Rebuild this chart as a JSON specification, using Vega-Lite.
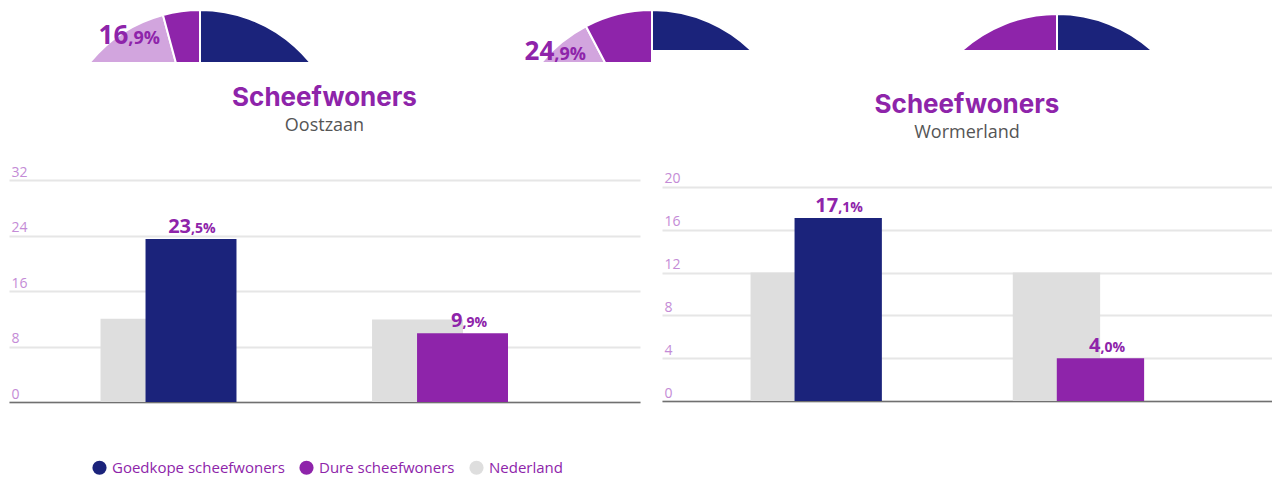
{
  "$schema": "https://vega.github.io/schema/vega-lite/v6.json",
  "background": "white",
  "padding": {"left": 9, "top": 8, "right": 0, "bottom": 0},
  "spacing": 23,
  "datasets": {
    "bars": [
      {"gemeente": "Oostzaan", "groep": "Goedkoop", "serie": "Nederland", "waarde": 12.0, "label_int": "", "label_dec": ""},
      {"gemeente": "Oostzaan", "groep": "Goedkoop", "serie": "Goedkope scheefwoners", "waarde": 23.5, "label_int": "23", "label_dec": ",5%"},
      {"gemeente": "Oostzaan", "groep": "Duur", "serie": "Nederland", "waarde": 11.9, "label_int": "", "label_dec": ""},
      {"gemeente": "Oostzaan", "groep": "Duur", "serie": "Dure scheefwoners", "waarde": 9.9, "label_int": "9", "label_dec": ",9%"},
      {"gemeente": "Wormerland", "groep": "Goedkoop", "serie": "Nederland", "waarde": 12.0, "label_int": "", "label_dec": ""},
      {"gemeente": "Wormerland", "groep": "Goedkoop", "serie": "Goedkope scheefwoners", "waarde": 17.1, "label_int": "17", "label_dec": ",1%"},
      {"gemeente": "Wormerland", "groep": "Duur", "serie": "Nederland", "waarde": 12.0, "label_int": "", "label_dec": ""},
      {"gemeente": "Wormerland", "groep": "Duur", "serie": "Dure scheefwoners", "waarde": 4.0, "label_int": "4", "label_dec": ",0%"}
    ],
    "taarten": [
      {"taart": 1, "nr": 1, "deel": "goedkoop", "aandeel": 70.0, "label_int": "", "label_dec": ""},
      {"taart": 1, "nr": 2, "deel": "duur", "aandeel": 15.6, "label_int": "", "label_dec": ""},
      {"taart": 1, "nr": 3, "deel": "midden", "aandeel": 10.2, "label_int": "16", "label_dec": ",9%"},
      {"taart": 1, "nr": 4, "deel": "duur", "aandeel": 4.2, "label_int": "", "label_dec": ""},
      {"taart": 2, "nr": 1, "deel": "goedkoop", "aandeel": 55.6, "label_int": "", "label_dec": ""},
      {"taart": 2, "nr": 2, "deel": "duur", "aandeel": 26.1, "label_int": "", "label_dec": ""},
      {"taart": 2, "nr": 3, "deel": "midden", "aandeel": 10.6, "label_int": "24", "label_dec": ",9%"},
      {"taart": 2, "nr": 4, "deel": "duur", "aandeel": 7.7, "label_int": "", "label_dec": ""},
      {"taart": 3, "nr": 1, "deel": "goedkoop", "aandeel": 50.0, "label_int": "", "label_dec": ""},
      {"taart": 3, "nr": 2, "deel": "duur", "aandeel": 50.0, "label_int": "", "label_dec": ""}
    ]
  },
  "vconcat": [
    {
      "spacing": 0,
      "hconcat": [
        {
          "width": 643,
          "height": 54,
          "data": {"name": "taarten"},
          "encoding": {
            "theta": {"field": "aandeel", "type": "quantitative", "stack": true},
            "order": {"field": "nr", "type": "quantitative"}
          },
          "layer": [
            {"transform": [{"filter": "datum.taart === 1"}],
             "mark": {"type": "arc", "radius": 142, "xOffset": -130.5, "yOffset": 117, "clip": true, "stroke": "white", "strokeWidth": 2},
             "encoding": {"fill": {"field": "deel", "type": "nominal", "legend": null, "scale": {"domain": ["goedkoop", "duur", "midden"], "range": ["#1b237b", "#8e24aa", "#d2a5de"]}}}},
            {"transform": [{"filter": "datum.taart === 1"}],
             "mark": {"type": "text", "radius": 130, "xOffset": -130.5, "yOffset": 117, "clip": true, "align": "right", "baseline": "alphabetic", "font": "Open Sans", "fontWeight": "bold", "fontSize": 26, "color": "#8e24aa"},
             "encoding": {"text": {"field": "label_int"}}},
            {"transform": [{"filter": "datum.taart === 1"}],
             "mark": {"type": "text", "radius": 130, "xOffset": -130.5, "yOffset": 117, "clip": true, "align": "left", "baseline": "alphabetic", "font": "Open Sans", "fontWeight": "bold", "fontSize": 18, "color": "#8e24aa"},
             "encoding": {"text": {"field": "label_dec"}}},
            {"transform": [{"filter": "datum.taart === 2"}],
             "mark": {"type": "arc", "radius": 142, "xOffset": 321.5, "yOffset": 117, "clip": true, "stroke": "white", "strokeWidth": 2},
             "encoding": {"fill": {"field": "deel", "type": "nominal", "legend": null, "scale": {"domain": ["goedkoop", "duur", "midden"], "range": ["#1b237b", "#8e24aa", "#d2a5de"]}}}},
            {"transform": [{"filter": "datum.taart === 2"}],
             "mark": {"type": "text", "radius": 134, "xOffset": 321.5, "yOffset": 117, "clip": true, "align": "right", "baseline": "alphabetic", "font": "Open Sans", "fontWeight": "bold", "fontSize": 26, "color": "#8e24aa"},
             "encoding": {"text": {"field": "label_int"}}},
            {"transform": [{"filter": "datum.taart === 2"}],
             "mark": {"type": "text", "radius": 134, "xOffset": 321.5, "yOffset": 117, "clip": true, "align": "left", "baseline": "alphabetic", "font": "Open Sans", "fontWeight": "bold", "fontSize": 18, "color": "#8e24aa"},
             "encoding": {"text": {"field": "label_dec"}}}
          ]
        },
        {
          "width": 620,
          "height": 42,
          "data": {"name": "taarten"},
          "encoding": {
            "theta": {"field": "aandeel", "type": "quantitative", "stack": true},
            "order": {"field": "nr", "type": "quantitative"}
          },
          "layer": [
            {"transform": [{"filter": "datum.taart === 2"}],
             "mark": {"type": "arc", "radius": 142, "xOffset": -310, "yOffset": 123, "clip": true, "stroke": "white", "strokeWidth": 2},
             "encoding": {"fill": {"field": "deel", "type": "nominal", "legend": null, "scale": {"domain": ["goedkoop", "duur", "midden"], "range": ["#1b237b", "#8e24aa", "#d2a5de"]}}}},
            {"transform": [{"filter": "datum.taart === 3"}],
             "mark": {"type": "arc", "radius": 142, "xOffset": 95, "yOffset": 127, "clip": true, "stroke": "white", "strokeWidth": 2},
             "encoding": {"fill": {"field": "deel", "type": "nominal", "legend": null, "scale": {"domain": ["goedkoop", "duur", "midden"], "range": ["#1b237b", "#8e24aa", "#d2a5de"]}}}}
          ]
        }
      ]
    },
    {
      "spacing": 22,
      "hconcat": [
        {
          "width": 631,
          "height": 222,
          "title": {"text": "Scheefwoners", "subtitle": "Oostzaan"},
          "data": {"name": "bars"},
          "transform": [{"filter": "datum.gemeente === 'Oostzaan'"}],
          "encoding": {
            "x": {"field": "groep", "type": "nominal", "sort": ["Goedkoop", "Duur"],
                  "scale": {"paddingInner": 0, "paddingOuter": 0.162, "align": 0.27}},
            "y": {"field": "waarde", "type": "quantitative",
                  "scale": {"domain": [0, 32], "nice": false},
                  "axis": {"values": [0, 8, 16, 24, 32]}}
          },
          "layer": [
            {"transform": [{"filter": "datum.serie === 'Nederland'"}],
             "mark": {"type": "bar", "width": {"band": 0.335}, "xOffset": -22.5},
             "encoding": {"color": {"field": "serie", "type": "nominal", "scale": {"domain": ["Goedkope scheefwoners", "Dure scheefwoners", "Nederland"], "range": ["#1b237b", "#8e24aa", "#dedede"]}}}},
            {"transform": [{"filter": "datum.serie !== 'Nederland'"}],
             "mark": {"type": "bar", "width": {"band": 0.335}, "xOffset": 22.5},
             "encoding": {"color": {"field": "serie", "type": "nominal", "scale": {"domain": ["Goedkope scheefwoners", "Dure scheefwoners", "Nederland"], "range": ["#1b237b", "#8e24aa", "#dedede"]}}}},
            {"transform": [{"filter": "datum.serie !== 'Nederland'"}],
             "mark": {"type": "text", "align": "right", "baseline": "alphabetic", "dy": -6, "xOffset": 22.5, "font": "Open Sans", "fontWeight": "bold", "fontSize": 20, "color": "#8e24aa"},
             "encoding": {"text": {"field": "label_int"}}},
            {"transform": [{"filter": "datum.serie !== 'Nederland'"}],
             "mark": {"type": "text", "align": "left", "baseline": "alphabetic", "dy": -6, "xOffset": 22.5, "font": "Open Sans", "fontWeight": "bold", "fontSize": 14, "color": "#8e24aa"},
             "encoding": {"text": {"field": "label_dec"}}}
          ]
        },
        {
          "width": 610,
          "height": 221,
          "title": {"text": "Scheefwoners", "subtitle": "Wormerland"},
          "data": {"name": "bars"},
          "transform": [{"filter": "datum.gemeente === 'Wormerland'"}],
          "encoding": {
            "x": {"field": "groep", "type": "nominal", "sort": ["Goedkoop", "Duur"],
                  "scale": {"paddingInner": 0, "paddingOuter": 0.163, "align": 0.27}},
            "y": {"field": "waarde", "type": "quantitative",
                  "scale": {"domain": [0, 20.65], "nice": false},
                  "axis": {"values": [0, 4, 8, 12, 16, 20]}}
          },
          "layer": [
            {"transform": [{"filter": "datum.serie === 'Nederland'"}],
             "mark": {"type": "bar", "width": {"band": 0.333}, "xOffset": -22},
             "encoding": {"color": {"field": "serie", "type": "nominal", "scale": {"domain": ["Goedkope scheefwoners", "Dure scheefwoners", "Nederland"], "range": ["#1b237b", "#8e24aa", "#dedede"]}}}},
            {"transform": [{"filter": "datum.serie !== 'Nederland'"}],
             "mark": {"type": "bar", "width": {"band": 0.333}, "xOffset": 22},
             "encoding": {"color": {"field": "serie", "type": "nominal", "scale": {"domain": ["Goedkope scheefwoners", "Dure scheefwoners", "Nederland"], "range": ["#1b237b", "#8e24aa", "#dedede"]}}}},
            {"transform": [{"filter": "datum.serie !== 'Nederland'"}],
             "mark": {"type": "text", "align": "right", "baseline": "alphabetic", "dy": -6, "xOffset": 22, "font": "Open Sans", "fontWeight": "bold", "fontSize": 20, "color": "#8e24aa"},
             "encoding": {"text": {"field": "label_int"}}},
            {"transform": [{"filter": "datum.serie !== 'Nederland'"}],
             "mark": {"type": "text", "align": "left", "baseline": "alphabetic", "dy": -6, "xOffset": 22, "font": "Open Sans", "fontWeight": "bold", "fontSize": 14, "color": "#8e24aa"},
             "encoding": {"text": {"field": "label_dec"}}}
          ]
        }
      ]
    }
  ],
  "resolve": {"scale": {"color": "shared"}},
  "config": {
    "view": {"stroke": null},
    "title": {
      "anchor": "middle", "frame": "group", "font": "Inter", "fontSize": 26, "fontWeight": "bold", "color": "#8e24aa",
      "subtitleFont": "Open Sans", "subtitleFontSize": 18, "subtitleColor": "#555555", "subtitlePadding": 6, "offset": 30
    },
    "axisY": {
      "title": null, "grid": true, "gridColor": "#e6e6e6", "gridWidth": 2, "domain": false, "ticks": false,
      "labelAlign": "left", "labelBaseline": "alphabetic", "labelPadding": -2, "labelOffset": -4,
      "labelFont": "Open Sans", "labelFontSize": 14, "labelColor": "#c48bd6", "labelFlush": false, "labelOverlap": false
    },
    "axisX": {
      "title": null, "labels": false, "ticks": false, "grid": false, "domain": true, "domainColor": "#707070", "domainWidth": 1.5
    },
    "legend": {
      "orient": "none", "legendX": 83, "legendY": 452, "direction": "horizontal", "title": null,
      "symbolType": "circle", "symbolSize": 201, "symbolStrokeWidth": 0, "symbolOpacity": 1,
      "labelFont": "Open Sans", "labelFontSize": 15, "labelColor": "#8e24aa", "labelOffset": 5, "columnPadding": 14, "labelLimit": 300
    }
  }
}
